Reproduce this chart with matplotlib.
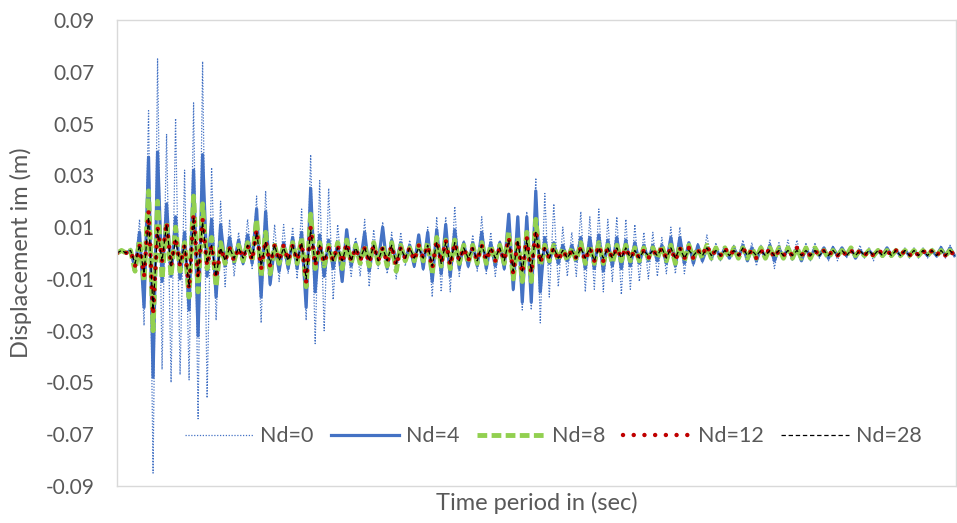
import numpy as np
import matplotlib
matplotlib.use("Agg")
import matplotlib.pyplot as plt

# displacement peaks, in mm (converted to m below)
nd0_mm = [0, 1, 0, 2, -6, 13, -28, 55, -85, 75, -45, 46, -50, 52, -47, 32, -49, 58, -64, 74, -56, 33, -26, 20, -13, 13, -9, 8, -5, 13, -6, 22,
          -27, 24, -13, 11, -11, 11, -8, 10, -10, 17, -26, 38, -35, 28, -30, 25, -18, 11, -9, 5, -9, 6, -9, 13, -13, 9, -6, 12, -8, 8,
          -10, 8, -5, 5, -6, 4, -7, 10, -17, 14, -15, 14, -15, 18, -9, 5, -6, 7, -7, 14, -8, 8, -9, 5, -7, 15, -15, 14, -22, 16, -22, 29,
          -27, 23, -17, 19, -13, 10, -9, 8, -9, 16, -15, 14, -14, 17, -15, 13, -11, 14, -16, 13, -14, 11, -11, 8, -10, 8, -9, 6, -8, 10, -8, 10,
          -8, 4, -5, 4, -4, 7, -3, 4, -3, 3, -2, 3, -2, 5, -3, 4, -5, 3, -3, 5, -6, 4, -3, 5, -3, 5, -3, 4, -3, 4,
          -2, 2, -3, 3, -3, 2, -2, 2, -2, 3, -2, 2, -3, 2, -2, 2, -2, 2, -2, 2, -2, 2, -2, 2, -2, 2, -2, 3, -2, 3, -1]

nd4_mm = [0, 1, 0, 1, -6, 8, -21, 37, -48, 39, -11, 19, -9, 14, -10, 8, -22, 32, -32, 38, -9, 13, -17, 11, -5, 6, -4, 5, -4, 7, -4, 17,
          -17, 16, -12, 3, -7, 4, -6, 6, -6, 8, -21, 25, -15, 7, -9, 5, -6, 4, -11, 9, -5, 4, -4, 8, -7, 4, -4, 10, -6, 5,
          -4, 4, -3, 3, -5, 7, -6, 8, -11, 9, -8, 11, -9, 9, -6, 4, -5, 4, -5, 8, -6, 4, -5, 4, -6, 15, -14, 14, -19, 14, -19, 24,
          -15, 6, -4, 4, -4, 3, -3, 3, -3, 6, -6, 6, -6, 7, -7, 5, -5, 6, -6, 5, -5, 4, -4, 3, -3, 3, -3, 3, -4, 6, -5, 6,
          -4, 4, -4, 3, -3, 2, -2, 2, -2, 2, -2, 2, -2, 3, -3, 2, -3, 2, -2, 3, -3, 2, -2, 2, -2, 2, -3, 2, -2, 2,
          -1, 2, -2, 2, -1, 2, -1, 2, -2, 1, -1, 1, -1, 1, -1, 2, -1, 1, -1, 1, -1, 1, -1, 1, -1, 1, -1, 2, -1, 2, -1]

nd8_mm = [0, 1, 0, 1, -7, 5, -11, 24, -30, 20, -10, 12, -9, 10, -7, 4, -17, 22, -15, 19, -6, 6, -13, 4, -4, 3, -3, 3, -3, 4, -3, 13,
          -9, 8, -8, 3, -4, 3, -4, 4, -4, 6, -13, 15, -6, 4, -5, 3, -4, 4, -6, 5, -4, 3, -4, 3, -5, 4, -4, 3, -5, 4,
          -7, 3, -3, 2, -3, 3, -3, 4, -8, 6, -5, 5, -6, 5, -4, 3, -4, 3, -4, 4, -4, 3, -3, 3, -4, 8, -10, 6, -11, 8, -11, 13,
          -5, 3, -3, 3, -3, 2, -3, 2, -3, 4, -4, 3, -4, 4, -4, 3, -4, 3, -3, 3, -3, 2, -3, 2, -2, 2, -2, 3, -3, 3, -4, 3,
          -3, 3, -2, 2, -2, 3, -2, 2, -2, 2, -2, 2, -2, 2, -2, 2, -2, 2, -2, 2, -2, 2, -2, 2, -2, 2, -2, 2, -2, 2,
          -1, 1, -2, 1, -1, 1, -1, 2, -1, 1, -1, 1, -1, 1, -1, 1, -1, 1, -1, 1, -1, 1, -1, 1, -1, 1, -1, 1, -1, 1, -1]

nd12_mm = [0, 1, 0, 1, -5, 3, -9, 16, -24, 10, -3, 12, -5, 6, -5, 3, -14, 15, -10, 13, -5, 3, -10, 2, -3, 2, -3, 2, -2, 3, -3, 9,
           -6, 5, -5, 3, -3, 3, -3, 3, -3, 4, -11, 10, -5, 3, -4, 2, -3, 3, -4, 4, -3, 2, -3, 2, -4, 3, -3, 2, -4, 3,
           -5, 2, -2, 2, -3, 3, -2, 3, -6, 5, -4, 5, -5, 4, -3, 2, -3, 2, -3, 3, -3, 2, -3, 2, -3, 6, -8, 5, -8, 6, -8, 9,
           -4, 2, -2, 2, -3, 1, -2, 1, -2, 2, -3, 2, -3, 3, -3, 2, -2, 2, -2, 2, -2, 1, -2, 1, -2, 1, -1, 2, -2, 2, -3, 2,
           -2, 2, -2, 1, -1, 3, -1, 1, -1, 2, -1, 1, -1, 2, -1, 1, -2, 1, -1, 2, -2, 1, -1, 1, -1, 2, -1, 1, -1, 1,
           -1, 1, -1, 1, -1, 1, -1, 1, -1, 1, -1, 1, -1, 1, 0, 1, -1, 1, -1, 1, -1, 1, -1, 1, -1, 1, -1, 1, -1, 1, -1]

nd28_mm = [0, 1, 0, 1, -4, 3, -8, 14, -22, 9, -3, 11, -5, 5, -4, 3, -13, 14, -9, 12, -4, 3, -9, 2, -3, 2, -2, 2, -2, 3, -2, 8,
           -5, 4, -4, 3, -3, 2, -3, 3, -3, 4, -10, 9, -4, 3, -3, 2, -3, 2, -3, 3, -3, 2, -2, 2, -3, 3, -3, 2, -3, 3,
           -4, 2, -2, 2, -2, 2, -2, 3, -5, 4, -4, 4, -4, 4, -3, 2, -2, 2, -3, 3, -2, 2, -2, 2, -3, 5, -7, 5, -7, 5, -7, 8,
           -3, 2, -2, 2, -2, 1, -2, 1, -2, 2, -2, 2, -3, 2, -2, 2, -2, 2, -2, 2, -2, 1, -2, 1, -1, 1, -1, 2, -2, 2, -2, 2,
           -2, 1, -1, 1, -1, 2, -1, 1, -1, 1, -1, 1, -1, 2, -1, 1, -1, 1, -1, 1, -1, 1, -1, 1, -1, 1, -1, 1, -1, 1,
           -1, 1, -1, 1, -1, 1, -1, 1, -1, 1, -1, 1, -1, 1, -1, 1, -1, 1, -1, 1, -1, 1, -1, 1, -1, 1, -1, 1, -1, 1, -1]

labels = ["Nd=0", "Nd=4", "Nd=8", "Nd=12", "Nd=28"]
y_ticks = [-0.09, -0.07, -0.05, -0.03, -0.01, 0.01, 0.03, 0.05, 0.07, 0.09]

series = [np.array(s) / 1000.0 for s in (nd0_mm, nd4_mm, nd8_mm, nd12_mm, nd28_mm)]
t = np.arange(len(nd0_mm))

plt.rcParams["font.family"] = ["Lato", "DejaVu Sans"]
grey = "#595959"

fig = plt.figure(figsize=(9.57, 5.23), dpi=100)
ax = fig.add_axes([0.1223, 0.0707, 0.877, 0.891])

styles = [
    dict(color="#4472C4", lw=0.9, dashes=(1.0, 1.3)),
    dict(color="#4472C4", lw=2.3, linestyle="-"),
    dict(color="#92D050", lw=3.5, dashes=(2.0, 0.9)),
    dict(color="#C00000", lw=3.2, dashes=(0.01, 2.4), dash_capstyle="round"),
    dict(color="black", lw=0.9, dashes=(3.5, 2.2)),
]
for y, lab, st in zip(series, labels, styles):
    ax.plot(t[:len(y)], y, label=lab, **st)

ax.set_xlim(0, len(nd0_mm) - 0.6)
ax.set_ylim(-0.09, 0.09)
ax.set_yticks(y_ticks)
ax.set_yticklabels(["%.2f" % v for v in y_ticks])
ax.set_xticks([])
ax.tick_params(axis="y", length=0, pad=16, labelsize=15, labelcolor=grey)
for sp in ax.spines.values():
    sp.set_color("#D9D9D9")
    sp.set_linewidth(1.0)

ax.set_ylabel("Displacement im (m)", fontsize=17, color=grey, labelpad=10)
ax.set_xlabel("Time period in (sec)", fontsize=17, color=grey, labelpad=4)

ax.legend(loc="center", bbox_to_anchor=(0.52, 0.107), ncol=5, frameon=False,
          fontsize=15.5, labelcolor=grey, handlelength=3.16, handletextpad=0.33,
          columnspacing=0.8)

fig.savefig("out.png", dpi=100)
